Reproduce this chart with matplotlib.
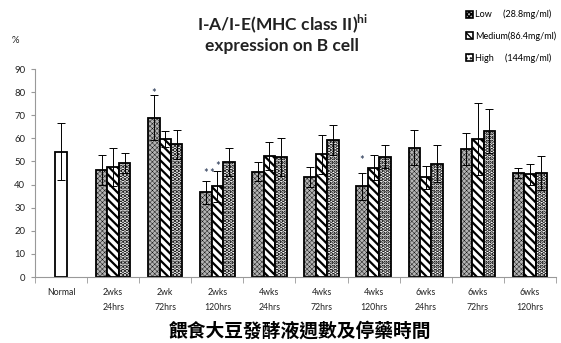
import numpy as np
import matplotlib
matplotlib.use('Agg')
import matplotlib.pyplot as plt
from matplotlib.patches import Patch

plt.rcParams['font.family'] = ['Lato', 'DejaVu Sans']
plt.rcParams['mathtext.fontset'] = 'custom'
plt.rcParams['mathtext.bf'] = 'Lato:bold'
plt.rcParams['mathtext.rm'] = 'Lato'

categories = ['Normal', '2wks\n24hrs', '2wk\n72hrs', '2wks\n120hrs', '4wks\n24hrs',
              '4wks\n72hrs', '4wks\n120hrs', '6wks\n24hrs', '6wks\n72hrs', '6wks\n120hrs']
normal = 54.3
normal_err = 12.2
low = [46.3, 69.0, 36.6, 45.6, 43.3, 39.2, 55.9, 55.4, 45.0]
low_err = [6.5, 9.6, 4.8, 4.2, 4.4, 5.8, 7.5, 6.8, 2.0]
medium = [47.5, 59.8, 39.2, 52.4, 53.1, 47.3, 43.1, 59.9, 44.4]
medium_err = [8.2, 3.5, 6.7, 5.9, 8.5, 5.4, 4.9, 15.6, 4.5]
high = [49.2, 57.5, 49.8, 52.0, 59.2, 52.1, 49.0, 63.2, 45.0]
high_err = [4.3, 6.3, 6.1, 8.2, 6.5, 5.1, 8.0, 9.6, 7.4]
legend_labels = ['Low     (28.8mg/ml)', 'Medium(86.4mg/ml)', 'High     (144mg/ml)']
# significance marks: (category, bar offset, height)
stars = [(2, -1, 79.5), (3, -1, 44.9), (3, -0.45, 44.9), (3, 0, 47.7), (6, -1, 50.2)]

w = 0.22
fig = plt.figure(figsize=(5.61, 3.43), dpi=100)
ax = fig.add_axes([0.0624, 0.1924, 0.9286, 0.6064])

x = np.arange(1, len(categories))
styles = [
    dict(facecolor='#b4b4b4', hatch='xxxxxxx', hlw=0.3),
    dict(facecolor='white', hatch='\\\\\\\\', hlw=1.6),
    dict(facecolor='white', hatch='....', hlw=2.2),
]

ax.bar(0, normal, w, color='white', edgecolor='black', linewidth=1.3, zorder=2)
ax.errorbar(0, normal, yerr=normal_err, fmt='none', ecolor='black',
            elinewidth=0.7, capsize=3, capthick=0.7, zorder=3)

handles = []
for k, (vals, errs) in enumerate([(low, low_err), (medium, medium_err), (high, high_err)]):
    st = styles[k]
    xs = x + (k - 1) * w
    bars = ax.bar(xs, vals, w, color=st['facecolor'], edgecolor='black',
                  linewidth=1.3, hatch=st['hatch'], zorder=2)
    for b in bars:
        if hasattr(b, 'set_hatch_linewidth'):
            b.set_hatch_linewidth(st['hlw'])
    ax.errorbar(xs, vals, yerr=errs, fmt='none', ecolor='black',
                elinewidth=0.7, capsize=3, capthick=0.7, zorder=3)
    h = Patch(facecolor=st['facecolor'], edgecolor='black', hatch=st['hatch'], linewidth=1.2)
    if hasattr(h, 'set_hatch_linewidth'):
        h.set_hatch_linewidth(min(st['hlw'], 1.0))
    handles.append(h)

for ci, off, yv in stars:
    ax.text(ci + off * w, yv, '*', ha='center', va='center', fontsize=8,
            color='#1a2a4a', zorder=4)

ax.set_xlim(-0.5, len(categories) - 0.5)
ax.set_ylim(0, 90)
ax.set_yticks(np.arange(0, 91, 10))
ax.set_xticks(np.arange(len(categories)))
ax.set_xticklabels(categories, fontsize=6.3, color='#222222', linespacing=1.9)
ax.set_xticks(np.arange(len(categories) + 1) - 0.5, minor=True)
ax.tick_params(axis='x', which='major', length=0, pad=8)
ax.tick_params(axis='x', which='minor', length=4, color='#999999', direction='out')
ax.tick_params(axis='y', labelsize=6.8, colors='#222222', length=3, color='#999999', pad=4)
for s in ['top', 'right']:
    ax.spines[s].set_visible(False)
for s in ['left', 'bottom']:
    ax.spines[s].set_color('#999999')
    ax.spines[s].set_linewidth(0.8)

fig.text(0.503, 0.930, r'I-A/I-E(MHC class II)$^{\mathbf{hi}}$', ha='center', va='center',
         fontsize=12.5, fontweight='bold', color='#222222')
fig.text(0.503, 0.866, 'expression on B cell', ha='center', va='center',
         fontsize=12.5, fontweight='bold', color='#222222')
fig.text(0.027, 0.883, '%', ha='center', va='center', fontsize=6.8, color='#222222')
fig.text(0.535, 0.035, '餵食大豆發酵液週數及停藥時間', ha='center', va='center',
         fontsize=13.5, fontweight='bold', family=['Noto Sans CJK TC', 'DejaVu Sans'])

fig.legend(handles, legend_labels, loc='upper left', bbox_to_anchor=(0.822, 0.985),
           frameon=False, fontsize=6.5, handlelength=0.8, handleheight=0.8,
           handletextpad=0.25, labelspacing=1.35, borderpad=0)

fig.savefig('out.png', dpi=100)
